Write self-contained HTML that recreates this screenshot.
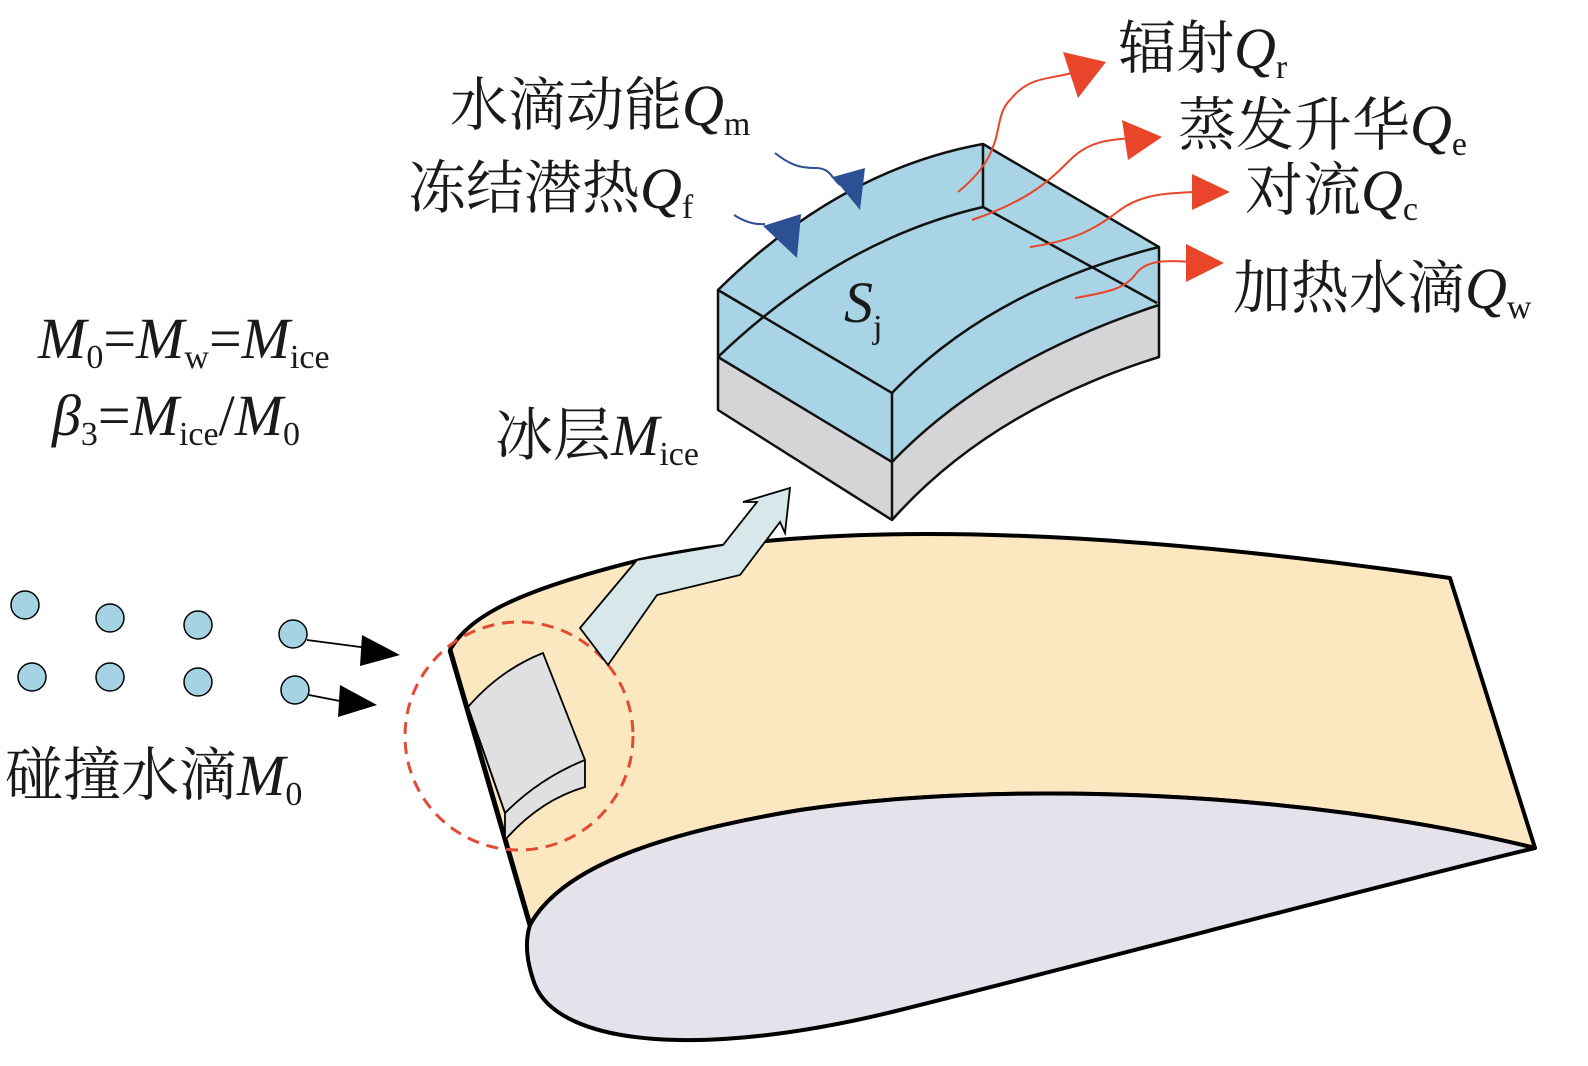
<!DOCTYPE html>
<html><head><meta charset="utf-8"><style>
html,body{margin:0;padding:0;background:#fff;}
svg{display:block;}
text{font-family:"Liberation Serif","Noto Serif CJK SC",serif;fill:#1a1a1a;}
</style></head><body>
<svg width="1588" height="1066" viewBox="0 0 1588 1066" xmlns="http://www.w3.org/2000/svg">
<!-- blade -->
<path d="M450,650 C470,615 520,590 640,560 C800,525 1050,520 1450,578 L1535,848 C1300,790 1000,780 800,810 C650,835 560,870 530,925 Z" fill="#fbe8c0" stroke="#000" stroke-width="4" stroke-linejoin="round"/>
<path d="M530,925 C560,870 650,835 800,810 C1000,780 1300,790 1535,848 C1400,880 1100,960 900,1010 C700,1060 560,1045 535,985 Q522,950 530,925 Z" fill="#e6e2ec" stroke="#000" stroke-width="4"/>
<path d="M450,650 L530,925" stroke="#000" stroke-width="5" fill="none"/>
<!-- small ice block -->
<path d="M468,707 Q500,670 543,653 L585,760 L585,787 Q540,800 505,840 L505,813 Z" fill="#e0e0e2" stroke="#000" stroke-width="1.8"/>
<path d="M468,707 L505,813 Q540,778 585,760" fill="none" stroke="#000" stroke-width="1.8"/>
<path d="M468,707 L505,840" fill="none" stroke="#000" stroke-width="1.8"/>
<circle cx="519" cy="736" r="114" fill="none" stroke="#e24a33" stroke-width="3" stroke-dasharray="12,8"/>
<path d="M580,628 L637,560 L723,545 L757,502 L743,502 L790,488 L785,533 L780,522 L740,575 L657,595 L608,665 Z" fill="#d8e8ea" stroke="#000" stroke-width="1.8"/>
<!-- box -->
<path d="M718,290 Q840,170 983,144 L1159,247 L1159,357 Q990,410 892,520 L718,410 Z" fill="#a9d4e6"/>
<path d="M718,357 L892,462 Q990,360 1159,305 L1159,357 Q990,410 892,520 L718,410 Z" fill="#d5d5d7"/>
<g fill="none" stroke="#111" stroke-width="2.5" stroke-linejoin="round">
<path d="M718,290 Q840,170 983,144 L1159,247 L1159,357 Q990,410 892,520 L718,410 Z"/>
<path d="M718,290 L892,393 Q990,290 1159,247"/>
<path d="M892,393 L892,520"/>
<path d="M718,357 L892,462 Q990,360 1159,305"/>
<path d="M718,357 Q840,240 983,207 L1157,303"/>
<path d="M983,144 L983,207"/>
</g>
<g fill="none" stroke="#e8452a" stroke-width="2">
<path d="M958,192 C1010,150 990,120 1010,100 C1030,75 1050,80 1075,72"/>
<path d="M972,220 C1030,200 1050,180 1070,160 C1090,140 1110,140 1135,138"/>
<path d="M1030,247 C1080,240 1100,225 1120,210 C1140,195 1165,193 1195,192"/>
<path d="M1075,298 C1110,292 1125,288 1135,275 C1145,260 1165,260 1192,262"/>
</g>
<g fill="#e8452a">
<polygon points="1106,62 1063,52 1078,98"/>
<polygon points="1162,137 1122,120 1128,160"/>
<polygon points="1230,192 1192,174 1192,210"/>
<polygon points="1224,263 1186,244 1186,282"/>
</g>
<g fill="none" stroke="#2d4f94" stroke-width="2">
<path d="M775,153 C790,165 800,168 815,168 C830,168 830,176 840,185"/>
<path d="M734,215 C745,222 755,225 765,224"/>
</g>
<g fill="#2d4f94">
<polygon points="860,210 833,177 865,168"/>
<polygon points="797,258 763,226 801,214"/>
</g>
<g fill="#a6d3e3" stroke="#000" stroke-width="1.5">
<circle cx="25" cy="605" r="14"/><circle cx="110" cy="618" r="14"/><circle cx="198" cy="625" r="14"/><circle cx="293" cy="634" r="14"/>
<circle cx="32" cy="677" r="14"/><circle cx="110" cy="677" r="14"/><circle cx="198" cy="682" r="14"/><circle cx="295" cy="690" r="14"/>
</g>
<g stroke="#000" stroke-width="1.8"><line x1="307" y1="640" x2="368" y2="648"/><line x1="309" y1="695" x2="345" y2="702"/></g>
<polygon points="400,655 362,635 360,666" fill="#000"/>
<polygon points="377,705 340,685 338,717" fill="#000"/>
<g font-size="58">
<text x="1118" y="68">辐射<tspan font-style="italic">Q</tspan><tspan font-size="34" dy="10">r</tspan></text>
<text x="450" y="125">水滴动能<tspan font-style="italic">Q</tspan><tspan font-size="34" dy="10">m</tspan></text>
<text x="1178" y="145">蒸发升华<tspan font-style="italic">Q</tspan><tspan font-size="34" dy="10">e</tspan></text>
<text x="408" y="208">冻结潜热<tspan font-style="italic">Q</tspan><tspan font-size="34" dy="10">f</tspan></text>
<text x="1245" y="210">对流<tspan font-style="italic">Q</tspan><tspan font-size="34" dy="10">c</tspan></text>
<text x="1233" y="308">加热水滴<tspan font-style="italic">Q</tspan><tspan font-size="34" dy="10">w</tspan></text>
<text x="844" y="322" font-style="italic">S<tspan font-style="normal" font-size="34" dy="16">j</tspan></text>
<text x="38" y="358"><tspan font-style="italic">M</tspan><tspan font-size="34" dy="10">0</tspan><tspan dy="-10">=</tspan><tspan font-style="italic">M</tspan><tspan font-size="34" dy="10">w</tspan><tspan dy="-10">=</tspan><tspan font-style="italic">M</tspan><tspan font-size="34" dy="10">ice</tspan></text>
<text x="52" y="435"><tspan font-style="italic">β</tspan><tspan font-size="34" dy="10">3</tspan><tspan dy="-10">=</tspan><tspan font-style="italic">M</tspan><tspan font-size="34" dy="10">ice</tspan><tspan dy="-10">/</tspan><tspan font-style="italic">M</tspan><tspan font-size="34" dy="10">0</tspan></text>
<text x="495" y="455">冰层<tspan font-style="italic">M</tspan><tspan font-size="34" dy="10">ice</tspan></text>
<text x="5" y="795">碰撞水滴<tspan font-style="italic">M</tspan><tspan font-size="34" dy="10">0</tspan></text>
</g>
</svg>
</body></html>
